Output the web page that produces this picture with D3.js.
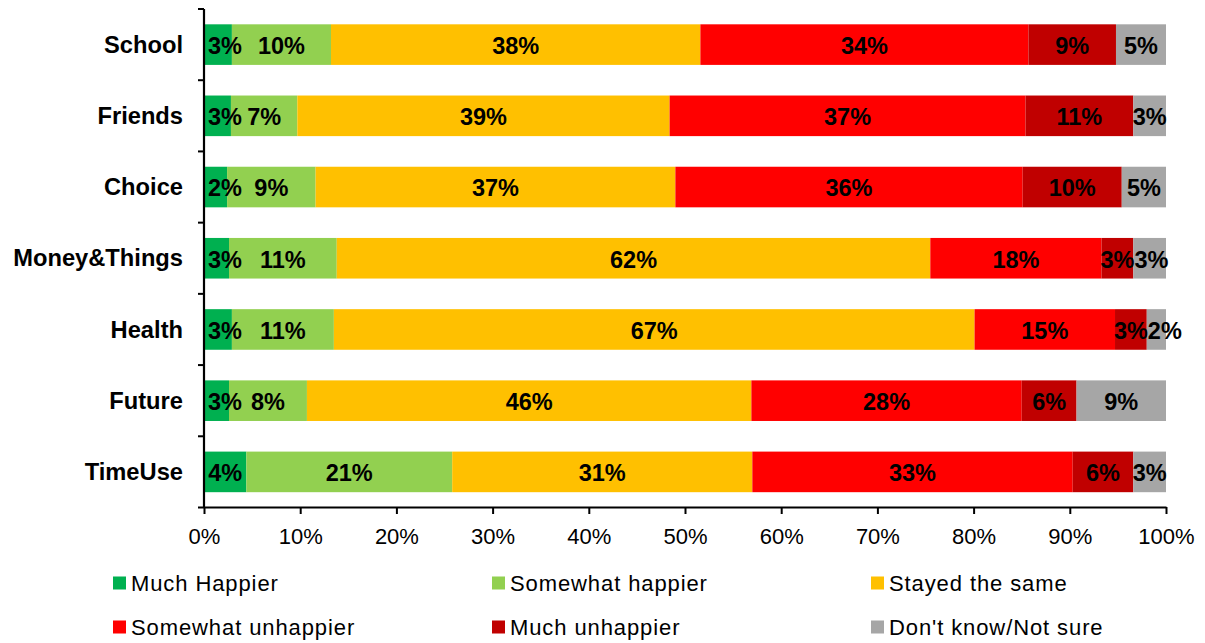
<!DOCTYPE html>
<html>
<head>
<meta charset="utf-8">
<script src="https://cdn.jsdelivr.net/npm/d3@7"></script>
<style>
  html, body { margin: 0; padding: 0; background: #fff; }
  svg { display: block; font-family: "Liberation Sans", Arial, sans-serif; }
</style>
</head>
<body>
<svg id="chart" width="1205" height="643"></svg>
<script>
// ---- data (percent of respondents) ----
const categories = ["School", "Friends", "Choice", "Money&Things", "Health", "Future", "TimeUse"];
const seriesNames = ["Much Happier", "Somewhat happier", "Stayed the same", "Somewhat unhappier", "Much unhappier", "Don't know/Not sure"];
const muchHappier       = [2.9, 2.8, 2.4, 2.6, 2.9, 2.6, 4.4];
const somewhatHappier   = [10.3, 6.9, 9.2, 11.2, 10.6, 8.1, 21.4];
const stayedSame        = [38.4, 38.7, 37.4, 61.7, 66.6, 46.2, 31.2];
const somewhatUnhappier = [34.1, 37.0, 36.1, 17.8, 14.6, 28.1, 33.3];
const muchUnhappier     = [9.1, 11.2, 10.3, 3.3, 3.3, 5.7, 6.3];
const dontKnow          = [5.2, 3.4, 4.6, 3.4, 2.0, 9.3, 3.4];
const xTickValues = [0, 10, 20, 30, 40, 50, 60, 70, 80, 90, 100];
const colors = ["#00B050", "#92D050", "#FFC000", "#FF0000", "#C00000", "#A6A6A6"];

const seriesValues = [muchHappier, somewhatHappier, stayedSame, somewhatUnhappier, muchUnhappier, dontKnow];
const rows = categories.map((c, i) => {
  const r = { cat: c };
  seriesNames.forEach((s, k) => r[s] = seriesValues[k][i]);
  return r;
});

const svg = d3.select("#chart");
const x = d3.scaleLinear().domain([0, 100]).range([204, 1166]);
const y = d3.scaleBand().domain(categories).range([9, 507.5]).paddingInner(0.43).paddingOuter(0.215);

const stack = d3.stack().keys(seriesNames);
const stacked = stack(rows);

// bars
const gBars = svg.append("g");
stacked.forEach((layer, k) => {
  gBars.selectAll(null).data(layer).join("rect")
    .attr("x", d => x(d[0]))
    .attr("y", d => y(d.data.cat))
    .attr("width", d => x(d[1]) - x(d[0]))
    .attr("height", y.bandwidth())
    .attr("fill", colors[k]);
});

// data labels with simple collision handling
const gLab = svg.append("g").attr("font-weight", "bold").attr("font-size", "23.5px").attr("fill", "#000");
categories.forEach((cat, i) => {
  let prevRight = -Infinity;
  stacked.forEach((layer, k) => {
    const d = layer[i];
    const cy = y(cat) + y.bandwidth() / 2;
    const t = gLab.append("text")
      .attr("text-anchor", "middle")
      .attr("y", cy + 9.3)
      .text(Math.round(d[1] - d[0]) + "%");
    const w = t.node().getComputedTextLength();
    let cx = (x(d[0]) + x(d[1])) / 2;
    if (cx - w / 2 < 208) cx = 208 + w / 2;
    if (cx - w / 2 < prevRight) cx = prevRight + w / 2;
    prevRight = cx + w / 2;
    t.attr("x", cx);
  });
});

// x axis
const xAxis = svg.append("g")
  .attr("transform", "translate(0,507)")
  .call(d3.axisBottom(x).tickValues(xTickValues).tickFormat(d => d + "%").tickSizeInner(7).tickSizeOuter(0).tickPadding(14));
xAxis.select(".domain").attr("stroke", "#000").attr("stroke-width", 2.2);
xAxis.selectAll(".tick line").attr("stroke", "#000").attr("stroke-width", 2);
xAxis.selectAll(".tick text").attr("font-size", "22px").attr("font-family", "Liberation Sans, Arial, sans-serif").attr("fill", "#000");

// y axis: labels via axisLeft, ticks at band boundaries
const yAxis = svg.append("g")
  .attr("transform", "translate(204,0)")
  .call(d3.axisLeft(y).tickSize(0).tickPadding(21));
yAxis.select(".domain").remove();
yAxis.selectAll(".tick text").attr("font-size", "23.7px").attr("font-weight", "bold")
  .attr("font-family", "Liberation Sans, Arial, sans-serif").attr("fill", "#000").attr("dy", "0.34em");
const r0 = y.range()[0], r1 = y.range()[1];
const bounds = d3.range(categories.length + 1).map(i => r0 + i * y.step());
svg.append("line").attr("x1", 204).attr("x2", 204).attr("y1", r0).attr("y2", 508)
  .attr("stroke", "#000").attr("stroke-width", 2.2);
svg.append("g").selectAll("line").data(bounds).join("line")
  .attr("x1", 198).attr("x2", 204).attr("y1", d => d).attr("y2", d => d)
  .attr("stroke", "#000").attr("stroke-width", 2);

// legend
const legend = svg.append("g").attr("font-size", "22px").attr("letter-spacing", "0.9px").attr("fill", "#000");
seriesNames.forEach((s, k) => {
  const col = k % 3, row = Math.floor(k / 3);
  const lx = 113 + col * 379, ly = 583 + row * 44;
  legend.append("rect").attr("x", lx).attr("y", ly - 6.5).attr("width", 13).attr("height", 13).attr("fill", colors[k]);
  legend.append("text").attr("x", lx + 18).attr("y", ly + 8).text(s);
});
</script>
</body>
</html>
